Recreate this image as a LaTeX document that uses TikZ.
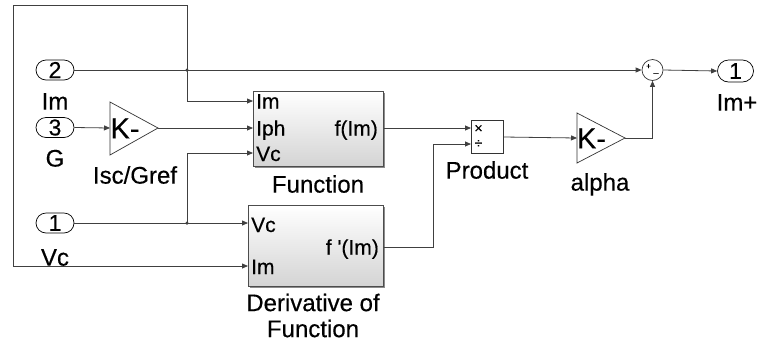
\documentclass[tikz,border=0pt]{standalone}
\usepackage{fontspec}
\setmainfont{Liberation Sans}[FakeBold=0.35]
\newfontfamily\kfont{Liberation Sans}[FakeBold=0.35]
\usetikzlibrary{arrows.meta,shapes.geometric}
\definecolor{wirecol}{gray}{0.25}
\begin{document}
\begin{tikzpicture}[x=1pt,y=-1pt,
 wire/.style={draw=wirecol, line width=0.8pt},
 arr/.style={wire,-{Triangle[length=6pt,width=5pt]}},
 port/.style={draw=black, line width=0.7pt, rounded corners=10pt, fill=white, minimum width=38pt, minimum height=20pt, inner sep=0pt, font=\fontsize{23}{23}\selectfont},
 lbl/.style={font=\fontsize{24}{26}\selectfont, inner sep=0pt, text height=17.2pt, text depth=0pt},
 plbl/.style={font=\fontsize{21}{21}\selectfont, inner sep=0pt, text height=15pt, text depth=0pt},
 blk/.style={draw=black!70, line width=0.8pt, top color=white, bottom color=black!17, inner sep=0pt, anchor=north west},
 gain/.style={draw=black!80, line width=0.7pt, fill=white},
 kk/.style={font=\kfont\fontsize{29}{29}\selectfont, inner sep=0pt, text height=20.8pt, text depth=0pt},
 small/.style={font=\fontsize{14}{14}\selectfont, inner sep=0pt},
 jdot/.style={circle, fill=wirecol, inner sep=0pt, minimum size=3.5pt}]
\useasboundingbox (0,0) rectangle (757,349);
\fill[white] (0,0) rectangle (757,349);

% inports
\node[port] (in2) at (55,70) {2};
\node[lbl] (lin2) at (55,101) {Im};
\node[port] (in3) at (55,127.5) {3};
\node[lbl] (lin3) at (55,158) {G};
\node[port] (in1) at (55,223) {1};
\node[lbl] (lin1) at (55,257) {Vc};

% gain Isc/Gref
\coordinate (g1in) at (110,128);
\coordinate (g1out) at (158,128);
\draw[gain] (110,102) -- (158,128) -- (110,155) -- cycle;
\node[kk] (k1) at (125,128) {K-};
\node[lbl] (lg1) at (135,175) {Isc/Gref};

% Function block
\fill[black!45] (255,93) rectangle (385,168);
\node[blk, minimum width=130pt, minimum height=75pt] (fun) at (253,91) {};
\node[plbl, anchor=west] (fIm) at (256,101) {Im};
\node[plbl, anchor=west] (fIph) at (256,128) {Iph};
\node[plbl, anchor=west] (fVc) at (256,153.5) {Vc};
\node[plbl, anchor=east] (fout) at (378,128) {f(Im)};
\node[lbl] (lfun) at (318,184) {Function};

% Derivative block
\fill[black!45] (250,207) rectangle (385,288);
\node[blk, minimum width=135pt, minimum height=81pt] (der) at (248,205) {};
\node[plbl, anchor=west] (dVc) at (251,224.5) {Vc};
\node[plbl, anchor=west] (dIm) at (251,266.5) {Im};
\node[plbl, anchor=east] (dout) at (379,247) {f \textquotesingle(Im)};
\node[lbl] (lder1) at (313,302.5) {Derivative of};
\node[lbl] (lder2) at (313,328.5) {Function};

% Product
\node[draw=black!80, line width=0.7pt, fill=white, anchor=north west, minimum width=32pt, minimum height=33pt, inner sep=0pt] (prod) at (471,120) {};
\node[small] (ptimes) at (478.5,129) {×};
\node[small] (pdiv) at (478.5,144) {÷};
\node[lbl] (lprod) at (487,170) {Product};

% alpha gain
\coordinate (g2in) at (577,138);
\coordinate (g2out) at (625,138);
\draw[gain] (577,113) -- (625,138) -- (577,163) -- cycle;
\node[kk] (k2) at (591.5,138) {K-};
\node[lbl] (lg2) at (600,182) {alpha};

% sum
\node[circle, draw=black!80, line width=0.7pt, fill=white, minimum size=21pt, inner sep=0pt] (sum) at (652.5,70) {};
\node[font=\fontsize{8}{8}\selectfont, inner sep=0pt] (splus) at (648.5,66.5) {+};
\node[font=\fontsize{9}{9}\selectfont, inner sep=0pt] (sminus) at (656,73) {\_};

% outport
\node[port, minimum width=36pt, minimum height=22pt, rounded corners=11pt] (out1) at (735.5,71) {1};
\node[lbl] (lout) at (737,102) {Im+};

% junctions
\node[jdot] (j1) at (187,70) {};
\node[jdot] (j2) at (187,223) {};
\coordinate (ctop) at (187,5);
\coordinate (ctl) at (13,5);
\coordinate (cbl) at (13,266);

% wires
\draw[arr] (in2.east) -- (sum.west);
\draw[arr] (j1.center) -- (187,101) -- (fun.west |- 0,101);
\draw[arr] (j1.center) -- (ctop) -- (ctl) -- (cbl) -- (der.west |- cbl);
\draw[arr] (in3.east) -- (g1in);
\draw[arr] (g1out) -- (fun.west |- g1out);
\draw[arr] (in1.east) -- (der.west |- in1);
\draw[arr] (j2.center) -- (187,153) -- (fun.west |- 0,153);
\draw[arr] (fun.east |- 0,128) -- (prod.west |- 0,128);
\draw[arr] (der.east |- 0,247) -- (433,247) -- (433,144) -- (prod.west |- 0,144);
\draw[arr] (prod.east |- 0,137) -- (g2in);
\draw[arr] (g2out) -- (sum.center |- g2out) -- (sum.south);
\draw[arr] (sum.east) -- (out1.west);
\end{tikzpicture}
\end{document}
